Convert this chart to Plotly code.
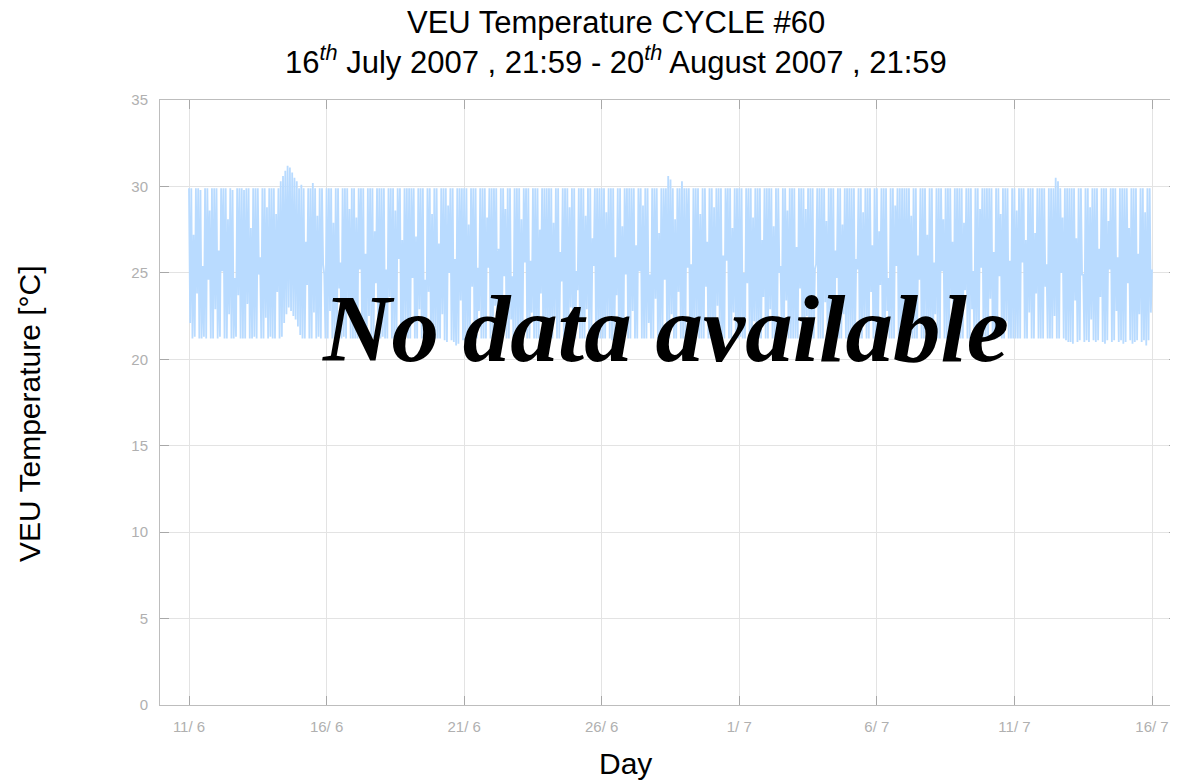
import pandas as pd
import plotly.graph_objects as go

# Thermostat cycle maxima (12 per day, one row per day, 11/6 .. 15/7)
peak_temps = [
    29.9,29.9,27.2,29.9,29.9,29.8,25.4,29.9,29.9,28.6,29.9,29.9,
    29.9,26.3,29.9,29.9,29.9,28.1,29.9,29.8,24.7,29.9,29.9,29.9,
    29.8,29.9,29.9,27.6,29.9,29.9,29.9,25.9,29.9,29.9,28.8,29.9,
    29.9,29.9,28.4,29.9,30.3,30.6,30.9,31.2,31.1,30.8,30.5,30.3,
    29.9,30.1,29.9,26.8,29.9,29.9,30.2,29.9,28.3,29.9,29.9,24.9,
    29.9,29.9,29.9,27.9,29.9,29.9,25.6,29.9,29.9,29.9,28.7,29.9,
    29.9,28.2,29.9,29.9,29.9,26.1,29.9,29.9,29.9,27.4,29.9,29.9,
    29.9,29.9,25.2,29.9,29.9,29.9,28.6,29.9,29.9,26.9,29.9,29.9,
    29.9,29.9,29.9,27.1,29.9,29.9,29.9,24.6,29.9,29.9,28.4,29.9,
    29.9,26.7,29.9,29.9,29.9,28.9,29.9,29.9,25.8,29.9,29.9,29.9,
    29.9,29.9,27.8,29.9,29.9,29.9,25.3,29.9,29.9,29.9,28.2,29.9,
    29.9,29.9,29.9,26.4,29.9,29.9,28.7,29.9,29.9,24.8,29.9,29.9,
    29.9,28.1,29.9,29.9,29.9,25.7,29.9,29.9,29.9,27.5,29.9,29.9,
    29.9,29.9,29.9,27.9,29.9,29.9,26.2,29.9,29.9,29.9,28.8,29.9,
    29.9,25.1,29.9,29.9,29.9,28.3,29.9,29.9,27.0,29.9,29.9,29.9,
    29.9,29.9,28.5,29.9,29.9,29.9,25.9,29.9,29.9,27.7,29.9,29.9,
    29.9,29.9,29.9,26.6,29.9,29.9,28.9,29.9,29.9,24.9,29.9,29.9,
    29.9,27.3,29.9,29.9,29.9,30.6,30.4,29.9,28.1,29.9,29.9,30.3,
    29.9,29.9,29.9,25.5,29.9,29.9,29.9,28.4,29.9,29.9,26.8,29.9,
    29.9,28.8,29.9,29.9,29.9,26.0,29.9,29.9,29.9,27.6,29.9,29.9,
    29.9,29.9,25.0,29.9,29.9,29.9,28.2,29.9,29.9,29.9,26.9,29.9,
    29.9,29.9,29.9,27.7,29.9,29.9,25.4,29.9,29.9,28.6,29.9,29.9,
    29.9,26.5,29.9,29.9,29.9,28.7,29.9,29.9,29.9,25.2,29.9,29.9,
    29.9,29.9,28.0,29.9,29.9,29.9,26.3,29.9,29.9,27.8,29.9,29.9,
    29.9,29.9,29.9,25.8,29.9,29.9,28.5,29.9,29.9,29.9,26.6,29.9,
    29.9,27.4,29.9,29.9,29.9,24.7,29.9,29.9,28.9,29.9,29.9,29.9,
    29.9,29.9,29.9,28.3,29.9,29.9,26.0,29.9,29.9,29.9,27.2,29.9,
    29.9,25.6,29.9,29.9,29.9,28.1,29.9,29.9,29.9,26.8,29.9,29.9,
    29.9,29.9,27.9,29.9,29.9,29.9,25.1,29.9,29.9,28.7,29.9,29.9,
    29.9,29.9,29.9,26.2,29.9,29.9,28.4,29.9,29.9,29.9,25.7,29.9,
    29.9,28.6,29.9,29.9,29.9,26.9,29.9,29.9,29.9,27.3,29.9,29.9,
    29.9,29.9,25.5,29.9,29.9,29.9,30.5,30.3,29.9,28.2,29.9,29.9,
    29.9,29.9,29.9,27.0,29.9,29.9,24.9,29.9,29.9,28.8,29.9,29.9,
    29.9,26.4,29.9,29.9,29.9,28.0,29.9,29.9,29.9,25.9,29.9,29.9,
    29.9,29.9,27.6,29.9,29.9,29.9,26.1,29.9,29.9,28.5,29.9,29.9,
]

# Thermostat cycle minima (12 per day, one row per day)
trough_temps = [
    22.1,21.2,21.3,23.8,21.2,21.2,21.3,21.2,24.6,21.2,21.2,22.9,
    21.2,21.3,25.1,21.2,21.2,22.6,21.2,21.2,21.3,23.7,21.2,21.2,
    21.2,23.2,21.2,21.2,21.3,21.2,24.9,21.2,21.2,22.4,21.2,21.3,
    21.2,21.2,23.9,21.2,21.3,22.1,22.6,23.0,22.8,22.5,22.3,21.9,
    21.4,21.2,21.2,24.3,21.2,21.2,22.7,21.2,21.3,21.2,25.5,21.2,
    21.2,22.8,21.2,21.2,21.2,24.1,21.2,21.3,21.2,23.3,21.2,21.2,
    21.2,21.2,25.2,21.2,21.2,21.3,22.5,21.2,21.2,24.4,21.2,21.2,
    21.3,21.2,21.2,23.6,21.2,21.2,21.2,25.8,21.2,21.2,22.2,21.2,
    21.2,24.7,21.2,21.2,22.9,21.2,21.2,21.3,23.9,21.2,21.2,21.2,
    21.2,21.2,22.6,21.1,21.0,25.0,21.1,21.0,20.8,20.9,23.4,21.1,
    21.0,21.1,21.2,24.2,21.2,21.2,22.8,21.2,21.2,21.2,25.3,21.2,
    21.2,23.1,21.2,21.2,21.2,24.8,21.2,21.2,22.3,21.2,21.2,21.3,
    21.2,21.2,25.6,21.2,21.2,22.7,21.2,21.2,21.2,23.8,21.2,21.2,
    21.3,21.2,21.2,22.4,21.2,21.2,24.5,21.2,21.2,21.2,23.0,21.2,
    21.2,24.0,21.2,21.2,21.2,22.9,21.2,21.2,25.4,21.2,21.2,21.2,
    21.2,21.2,22.5,21.2,21.1,21.2,23.7,21.2,21.2,21.2,24.9,21.2,
    21.2,22.8,21.2,21.2,25.1,21.2,21.2,21.2,22.1,21.2,21.2,23.5,
    21.2,21.2,21.2,24.6,21.2,21.2,22.6,21.2,21.2,23.9,21.2,21.2,
    21.2,25.3,21.2,21.2,21.2,22.4,21.2,21.2,21.2,24.2,21.2,21.2,
    21.2,21.2,23.1,21.2,21.2,21.2,25.7,21.2,21.2,22.7,21.2,21.2,
    21.3,21.2,21.2,24.4,21.2,21.2,22.2,21.2,21.2,21.2,23.6,21.2,
    21.2,22.9,21.2,21.2,21.2,25.0,21.2,21.2,23.4,21.2,21.2,21.2,
    21.2,21.2,24.1,21.2,21.2,22.5,21.2,21.2,21.2,25.5,21.2,21.2,
    21.2,23.3,21.2,21.2,21.2,21.2,24.7,21.2,21.2,22.6,21.2,21.2,
    21.2,21.2,21.2,25.2,21.2,21.2,22.3,21.2,21.2,23.9,21.2,21.2,
    21.2,24.3,21.2,21.2,22.8,21.2,21.2,21.2,25.4,21.2,21.2,21.2,
    21.2,21.2,23.0,21.2,21.2,21.2,24.6,21.2,21.2,22.4,21.2,21.2,
    21.2,22.6,21.2,21.2,25.1,21.2,21.2,21.2,23.7,21.2,21.2,21.2,
    21.2,21.2,24.0,21.2,21.2,22.9,21.2,21.2,21.2,25.3,21.2,21.2,
    21.2,23.5,21.2,21.2,21.2,24.8,21.2,21.2,22.2,21.2,21.2,21.2,
    21.2,21.2,21.2,25.6,21.2,21.2,22.7,21.2,21.2,23.8,21.2,21.2,
    21.2,24.2,21.2,21.2,21.2,22.5,21.2,21.2,25.0,21.2,21.1,21.0,
    21.0,20.9,23.4,21.0,21.1,24.9,21.0,21.1,21.0,22.3,21.1,21.0,
    21.1,23.6,21.0,20.9,21.1,25.2,21.0,21.1,22.8,21.0,21.1,20.9,
    21.0,24.4,21.1,20.9,21.0,21.1,22.6,21.0,21.1,20.8,21.1,22.7,
]
final_temp = 25.2

start_time = "2007-06-11 00:00"
x_range = ["2007-06-09 22:42", "2007-07-16 22:41"]

tick_dates = ["2007-06-11", "2007-06-16", "2007-06-21", "2007-06-26",
              "2007-07-01", "2007-07-06", "2007-07-11", "2007-07-16"]
tick_labels = ["11/ 6", "16/ 6", "21/ 6", "26/ 6", "1/ 7", "6/ 7", "11/ 7", "16/ 7"]
y_ticks = [0, 5, 10, 15, 20, 25, 30, 35]

title_line1 = "VEU Temperature CYCLE #60"
title_line2 = "16<sup><i>th</i></sup> July 2007 , 21:59 - 20<sup><i>th</i></sup> August 2007 , 21:59"
x_title = "Day"
y_title = "VEU Temperature [°C]"
overlay_text = "<b><i>No data available</i></b>"

# interleave maxima and minima into hourly readings
temps = []
for p, t in zip(peak_temps, trough_temps):
    temps.append(p)
    temps.append(t)
temps.append(final_temp)
times = pd.date_range(start_time, periods=len(temps), freq="1h")

fig = go.Figure()
fig.add_trace(go.Scatter(
    x=times, y=temps, mode="lines",
    line=dict(color="#b9dbff", width=1.8),
    hoverinfo="skip", showlegend=False,
))

grid_col = "#e3e3e3"
axis_col = "#bdbdbd"
tick_font = dict(family="Liberation Sans Narrow, Liberation Sans, Arial", size=15, color="#b0b0b0")
label_font = dict(family="Liberation Sans, Arial", size=30, color="#000")
title_font = dict(family="Liberation Sans, Arial", size=31, color="#000")

fig.update_xaxes(
    range=x_range, tickvals=tick_dates, ticktext=tick_labels,
    showgrid=True, gridcolor=grid_col, gridwidth=1,
    showline=True, linecolor=axis_col, linewidth=1, mirror="ticks",
    ticks="inside", ticklen=9, tickcolor="#a8a8a8", tickwidth=1,
    tickfont=tick_font, zeroline=False, ticklabelstandoff=8,
)
fig.update_yaxes(
    range=[0, 35], tickvals=y_ticks,
    showgrid=True, gridcolor=grid_col, gridwidth=1,
    showline=True, linecolor=axis_col, linewidth=1, mirror="ticks",
    ticks="inside", ticklen=9, tickcolor="#a8a8a8", tickwidth=1,
    tickfont=tick_font, zeroline=False, ticklabelstandoff=8,
)

# page body has an 8px margin: figure is sized so the page is 1178x781
fig.update_layout(
    width=1170, height=773,
    margin=dict(l=152, r=0, t=92, b=76),
    paper_bgcolor="white", plot_bgcolor="white",
    annotations=[
        dict(text=title_line1, xref="paper", yref="paper", x=0.448, y=1.1273,
             xanchor="center", yanchor="middle", showarrow=False, font=title_font),
        dict(text=title_line2, xref="paper", yref="paper", x=0.448, y=1.0655,
             xanchor="center", yanchor="middle", showarrow=False, font=title_font),
        dict(text=x_title, xref="paper", yref="paper", x=0.457, y=-0.0959,
             xanchor="center", yanchor="middle", showarrow=False, font=label_font),
        dict(text=y_title, xref="paper", yref="paper", x=-0.1277, y=0.481,
             xanchor="center", yanchor="middle", showarrow=False, textangle=-90,
             font=label_font),
        dict(text=overlay_text, xref="paper", yref="paper", x=0.497, y=0.6215,
             xanchor="center", yanchor="middle", showarrow=False,
             font=dict(family="Liberation Serif, Times New Roman, serif", size=95, color="#000")),
    ],
)

fig.write_html("out.html")
